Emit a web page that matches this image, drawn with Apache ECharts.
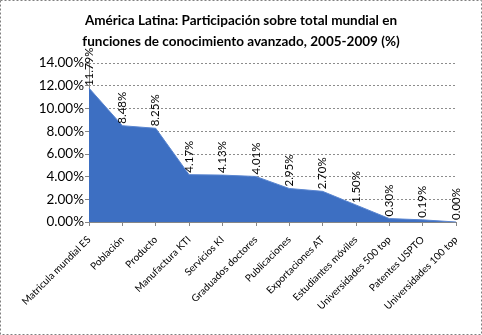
<!DOCTYPE html>
<html>
<head>
<meta charset="utf-8">
<script src="https://cdn.jsdelivr.net/npm/echarts@6/dist/echarts.min.js"></script>
<style>
  html, body { margin: 0; padding: 0; background: #fff; }
  #chart { width: 482px; height: 335px; }
</style>
</head>
<body>
<div id="chart"></div>
<script>
// Share of world total in advanced-knowledge functions, Latin America, 2005-2009
var categories = [
  'Matricula mundial ES', 'Población', 'Producto', 'Manufactura KTI',
  'Servicios KI', 'Graduados doctores', 'Publicaciones', 'Exportaciones AT',
  'Estudiantes móviles', 'Universidades 500 top', 'Patentes USPTO', 'Universidades 100 top'
];
var shares = [11.79, 8.48, 8.25, 4.17, 4.13, 4.01, 2.95, 2.70, 1.50, 0.30, 0.19, 0.00];
var titleLines = [
  'América Latina: Participación sobre total mundial en',
  'funciones de conocimiento avanzado, 2005-2009 (%)'
];

var chart = echarts.init(document.getElementById('chart'), null, { renderer: 'canvas' });

chart.setOption({
  animation: false,
  backgroundColor: '#ffffff',
  title: {
    text: titleLines.join('\n'),
    left: 'center',
    top: 5,
    textStyle: {
      fontFamily: 'Lato',
      fontWeight: 'bold',
      fontSize: 13.5,
      lineHeight: 21,
      color: '#000'
    }
  },
  graphic: [{
    type: 'rect',
    shape: { x: 0.5, y: 0.5, width: 481, height: 334 },
    style: { fill: null, stroke: '#808080', lineWidth: 1, lineDash: [2, 2] },
    silent: true
  }],
  grid: { left: 89, right: 26, top: 63, bottom: 113 },
  xAxis: {
    type: 'category',
    data: categories,
    boundaryGap: false,
    axisLine: { lineStyle: { color: '#868686' } },
    axisTick: { show: true, alignWithLabel: true, length: 4, lineStyle: { color: '#868686' } },
    axisLabel: {
      interval: 0,
      rotate: 45,
      margin: 16,
      fontFamily: 'Lato',
      fontSize: 10,
      color: '#000'
    }
  },
  yAxis: {
    type: 'value',
    min: 0,
    max: 14,
    interval: 2,
    axisLine: { show: true, lineStyle: { color: '#868686' } },
    axisTick: { show: true, length: 4, lineStyle: { color: '#868686' } },
    splitLine: { lineStyle: { color: '#8c8c8c', type: [2, 2] } },
    axisLabel: {
      margin: 5,
      fontFamily: 'Lato',
      fontSize: 13.5,
      color: '#000',
      formatter: function (v) { return v.toFixed(2) + '%'; }
    }
  },
  series: [{
    type: 'line',
    data: shares,
    symbol: 'circle',
    symbolSize: 2,
    showSymbol: true,
    itemStyle: { color: 'rgba(0,0,0,0)', borderWidth: 0 },
    lineStyle: { color: '#5b86d0', width: 1 },
    areaStyle: { color: '#3d6fc2', opacity: 1 },
    label: {
      show: true,
      position: 'top',
      distance: 1,
      rotate: 90,
      align: 'left',
      verticalAlign: 'middle',
      fontFamily: 'Lato',
      fontSize: 11.5,
      color: '#000',
      formatter: function (p) { return p.value.toFixed(2) + '%'; }
    }
  }]
});
</script>
</body>
</html>
